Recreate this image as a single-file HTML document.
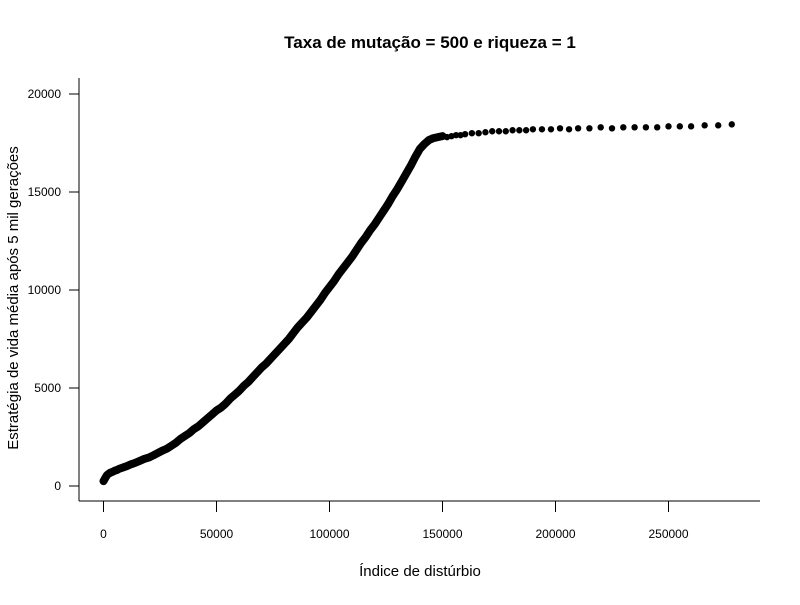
<!DOCTYPE html>
<html><head><meta charset="utf-8"><style>
body{margin:0;background:#fff}
svg text{font-family:"Liberation Sans",sans-serif}
</style></head><body>
<svg id="chart" width="800" height="600">
<text x="430" y="48" text-anchor="middle" font-size="17" font-weight="bold">Taxa de mutação = 500 e riqueza = 1</text>
<text x="420" y="576" text-anchor="middle" font-size="15">Índice de distúrbio</text>
<text transform="translate(18,298) rotate(-90)" text-anchor="middle" font-size="15">Estratégia de vida média após 5 mil gerações</text>
<line x1="79" y1="78" x2="79" y2="501" stroke="#000"/>
<line x1="79" y1="501" x2="760" y2="501" stroke="#000"/>
<g id="xt"></g><g id="yt"></g><g id="marks"></g>
</svg>
<script>
const xTicks=[0,50000,100000,150000,200000,250000];
const yTicks=[0,5000,10000,15000,20000];
const xs=[0,500,1000,1500,2000,3000,4000,5000,6000,7000,8000,9000,10000,12000,14000,16000,18000,20000,22000,24000,26000,28000,30000,32000,34000,36000,38000,40000,42000,44000,46000,48000,50000,52000,54000,56000,58000,60000,62000,64000,66000,68000,70000,72000,74000,76000,78000,80000,82000,84000,86000,88000,90000,92000,94000,96000,98000,100000,102000,104000,106000,108000,110000,112000,114000,116000,118000,120000,122000,124000,126000,128000,130000,132000,134000,136000,138000,140000,142000,144000,146000,148000,150000,152000,154000,156000,158000,160000,163000,166000,169000,172000,175000,178000,181000,184000,187000,190000,194000,198000,202000,206000,210000,215000,220000,225000,230000,235000,240000,245000,250000,255000,260000,266000,272000,278000];
const ys=[250,350,450,550,600,680,720,780,820,880,920,960,1000,1100,1180,1280,1380,1450,1560,1680,1800,1900,2050,2200,2400,2550,2700,2900,3050,3250,3450,3650,3850,4000,4200,4450,4650,4850,5100,5300,5550,5800,6050,6250,6500,6750,7000,7250,7500,7800,8100,8350,8600,8900,9200,9500,9850,10150,10450,10800,11100,11400,11700,12050,12400,12700,13050,13350,13700,14050,14400,14800,15150,15550,15950,16350,16800,17200,17450,17650,17750,17800,17850,17800,17850,17900,17900,17950,18000,18000,18050,18100,18100,18100,18150,18150,18150,18200,18200,18200,18250,18200,18250,18250,18300,18250,18300,18300,18300,18300,18350,18350,18350,18400,18400,18450];
const X=v=>103.5+v*113/50000, Y=v=>486-v*392/20000;
const NS='http://www.w3.org/2000/svg';
function mk(t,a,p){const e=document.createElementNS(NS,t);for(const k in a)e.setAttribute(k,a[k]);p.appendChild(e);return e;}
const xt=document.getElementById('xt'),yt=document.getElementById('yt'),mg=document.getElementById('marks');
xTicks.forEach(v=>{const l=mk('line',{x1:X(v),x2:X(v),y1:501,y2:512,stroke:'#000'},xt);


const t=mk('text',{x:X(v),y:538,'text-anchor':'middle','font-size':12},xt);t.textContent=v;

});
yTicks.forEach(v=>{const l=mk('line',{x1:69,x2:79,y1:Y(v),y2:Y(v),stroke:'#000'},yt);


const t=mk('text',{x:61,y:Y(v)+4,'text-anchor':'end','font-size':12},yt);t.textContent=v;

});
let d='';xs.forEach((v,i)=>{if(v<=150000)d+=(i?'L':'M')+X(v)+' '+Y(ys[i]);});
const p=mk('path',{d:d,fill:'none',stroke:'#000','stroke-width':8,'stroke-linejoin':'round','stroke-linecap':'round'},mg);


xs.forEach((v,i)=>{const c=mk('circle',{cx:X(v),cy:Y(ys[i]),r:3.2,fill:'#000'},mg);

});
</script>
</body></html>
